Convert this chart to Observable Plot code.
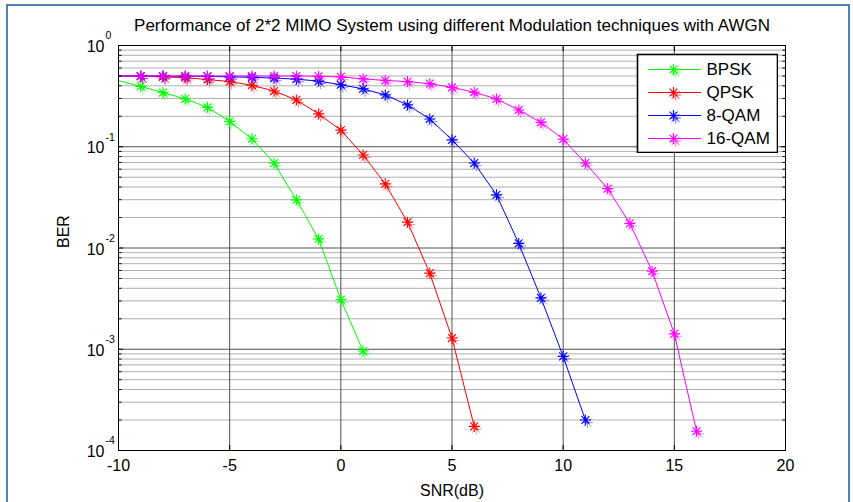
<!DOCTYPE html>
<html><head><meta charset="utf-8">
<script src="https://cdn.jsdelivr.net/npm/d3@7"></script>
<script src="https://cdn.jsdelivr.net/npm/@observablehq/plot@0.6"></script>
<style>
html,body{margin:0;padding:0;background:#fff;overflow:hidden;}
#wrap{position:relative;width:853px;height:502px;font-family:"Liberation Sans",Arial,sans-serif;}
#chart{position:absolute;left:0;top:0;}
#legend{position:absolute;left:636px;top:53px;}
#border{position:absolute;left:6px;top:4px;width:840px;height:520px;border:2px solid #4f81bd;border-bottom:none;pointer-events:none;}
</style></head>
<body><div id="wrap"><div id="chart"></div><div id="legend"></div><div id="border"></div></div>
<script>
const title = "Performance of 2*2 MIMO System using different Modulation techniques with AWGN";
const xLabel = "SNR(dB)";
const yLabel = "BER";
const seriesNames = ["BPSK", "QPSK", "8-QAM", "16-QAM"];
const seriesColors = ["#00ff00", "#ff0000", "#0000ff", "#ff00ff"];

const snrBPSK = [-10, -9, -8, -7, -6, -5, -4, -3, -2, -1, 0, 1];
const berBPSK = [0.45, 0.395, 0.343, 0.297, 0.245, 0.178, 0.12, 0.069, 0.0299, 0.0123, 0.0031, 0.00096];

const snrQPSK = [-10, -9, -8, -7, -6, -5, -4, -3, -2, -1, 0, 1, 2, 3, 4, 5, 6];
const berQPSK = [0.5, 0.497, 0.49, 0.48, 0.462, 0.44, 0.405, 0.355, 0.29, 0.211, 0.146, 0.083, 0.043, 0.018, 0.00565, 0.00129, 0.000173];

const snr8QAM = [-10, -9, -8, -7, -6, -5, -4, -3, -2, -1, 0, 1, 2, 3, 4, 5, 6, 7, 8, 9, 10, 11];
const ber8QAM = [0.5, 0.5, 0.5, 0.498, 0.495, 0.49, 0.485, 0.477, 0.465, 0.445, 0.41, 0.373, 0.325, 0.259, 0.188, 0.117, 0.069, 0.0335, 0.0111, 0.00322, 0.00085, 0.0002];

const snr16QAM = [-10, -9, -8, -7, -6, -5, -4, -3, -2, -1, 0, 1, 2, 3, 4, 5, 6, 7, 8, 9, 10, 11, 12, 13, 14, 15, 16];
const ber16QAM = [0.5, 0.5, 0.5, 0.5, 0.5, 0.5, 0.5, 0.5, 0.5, 0.497, 0.49, 0.468, 0.452, 0.44, 0.42, 0.386, 0.345, 0.297, 0.231, 0.174, 0.119, 0.069, 0.0386, 0.0175, 0.0059, 0.00142, 0.000155];

const xTicks = [-10, -5, 0, 5, 10, 15, 20];
const yTicks = [1e-4, 1e-3, 1e-2, 1e-1, 1];
const yMinorTicks = [];
for (const e of [-4, -3, -2, -1]) for (const m of [2, 3, 4, 5, 6, 7, 8, 9]) yMinorTicks.push(+(m * Math.pow(10, e)).toPrecision(3));

const seriesSnr = [snrBPSK, snrQPSK, snr8QAM, snr16QAM];
const seriesBer = [berBPSK, berQPSK, ber8QAM, ber16QAM];
const rows = [];
seriesNames.forEach((name, k) => {
  seriesSnr[k].forEach((s, i) => rows.push({series: name, snr: s, ber: seriesBer[k][i]}));
});
const markerRows = rows.filter(d => d.snr > -10);

// MATLAB-style '*' marker (plus + cross)
const star = {
  draw(context, size) {
    const r = Math.sqrt(size / Math.PI);
    const d = r * 0.72;
    context.moveTo(-r, 0); context.lineTo(r, 0);
    context.moveTo(0, -r); context.lineTo(0, r);
    context.moveTo(-d, -d); context.lineTo(d, d);
    context.moveTo(-d, d); context.lineTo(d, -d);
  }
};

const font = "Liberation Sans, Arial, Helvetica, sans-serif";
const expText = d => String(Math.round(Math.log10(d)));

const chart = Plot.plot({
  width: 853, height: 502,
  marginLeft: 118, marginRight: 68, marginTop: 45, marginBottom: 52,
  style: {background: "transparent", fontFamily: font, color: "black", overflow: "visible"},
  x: {domain: [-10, 20], axis: null},
  y: {type: "log", domain: [1e-4, 1], axis: null},
  color: {domain: seriesNames, range: seriesColors},
  marks: [
    Plot.ruleY(yMinorTicks, {stroke: "#b0b0b0", strokeWidth: 1}),
    Plot.ruleY(yTicks.slice(1, -1), {stroke: "#505050", strokeWidth: 1}),
    Plot.ruleX(xTicks.slice(1, -1), {stroke: "#505050", strokeWidth: 1}),
    Plot.line(rows, {x: "snr", y: "ber", z: "series", stroke: "series", strokeWidth: 1}),
    Plot.dot(markerRows, {x: "snr", y: "ber", stroke: "series", fill: "none", symbol: star, r: 5.5, dx: 2, dy: 2.5, strokeOpacity: 0.45, strokeWidth: 1}),
    Plot.dot(markerRows, {x: "snr", y: "ber", stroke: "series", fill: "none", symbol: star, r: 5.5, strokeWidth: 1.1}),
    Plot.frame({stroke: "black", strokeWidth: 1}),
    Plot.axisX(xTicks.slice(1, -1), {anchor: "bottom", tickSize: -5, tickFormat: () => "", label: null}),
    Plot.axisX(xTicks.slice(1, -1), {anchor: "top", tickSize: -5, tickFormat: () => "", label: null}),
    Plot.axisY(yTicks, {anchor: "left", tickSize: -5, tickFormat: () => "", label: null}),
    Plot.axisY(yTicks, {anchor: "right", tickSize: -5, tickFormat: () => "", label: null}),
    Plot.axisY(yMinorTicks, {anchor: "left", tickSize: -3.5, tickFormat: () => "", label: null}),
    Plot.axisY(yMinorTicks, {anchor: "right", tickSize: -3.5, tickFormat: () => "", label: null}),
    Plot.axisX(xTicks, {anchor: "bottom", tickSize: 0, tickPadding: 9, tickFormat: d => String(d), fontSize: 16, label: null}),
    Plot.text(yTicks, {frameAnchor: "left", y: d => d, text: () => "10", textAnchor: "end", dx: -14, dy: 1.5, fontSize: 16, fill: "black"}),
    Plot.text(yTicks, {frameAnchor: "left", y: d => d, text: expText, textAnchor: "start", dx: -13, dy: -9.5, fontSize: 10.5, fill: "black"}),
    Plot.text([title], {frameAnchor: "top", lineAnchor: "middle", text: d => d, dy: -19.5, fontSize: 17, fill: "black"}),
    Plot.text([xLabel], {frameAnchor: "bottom", lineAnchor: "middle", text: d => d, dy: 40, fontSize: 16, fill: "black"}),
    Plot.text([yLabel], {frameAnchor: "left", lineAnchor: "middle", text: d => d, dx: -55, rotate: -90, fontSize: 16, fill: "black"})
  ]
});
document.getElementById("chart").appendChild(chart);

const legend = Plot.plot({
  width: 142, height: 100,
  marginLeft: 1, marginRight: 1, marginTop: 1, marginBottom: 1,
  style: {background: "transparent", fontFamily: font, color: "black"},
  x: {domain: [0, 1], axis: null},
  y: {type: "point", domain: seriesNames, range: [14.5, 85.5], padding: 0, axis: null},
  color: {domain: seriesNames, range: seriesColors},
  marks: [
    Plot.frame({stroke: "black", strokeWidth: 1.6, fill: "white"}),
    Plot.ruleY(seriesNames, {y: d => d, stroke: d => d, strokeWidth: 1, insetLeft: 11, insetRight: 76}),
    Plot.dot(seriesNames, {frameAnchor: "left", y: d => d, dx: 38, dy: 2.5, stroke: d => d, fill: "none", symbol: star, r: 5.5, strokeOpacity: 0.45}),
    Plot.dot(seriesNames, {frameAnchor: "left", y: d => d, dx: 36, stroke: d => d, fill: "none", symbol: star, r: 5.5, strokeWidth: 1.1}),
    Plot.text(seriesNames, {frameAnchor: "left", y: d => d, text: d => d, dx: 69, textAnchor: "start", fontSize: 17, fill: "black"})
  ]
});
document.getElementById("legend").appendChild(legend);
</script>
</body></html>
